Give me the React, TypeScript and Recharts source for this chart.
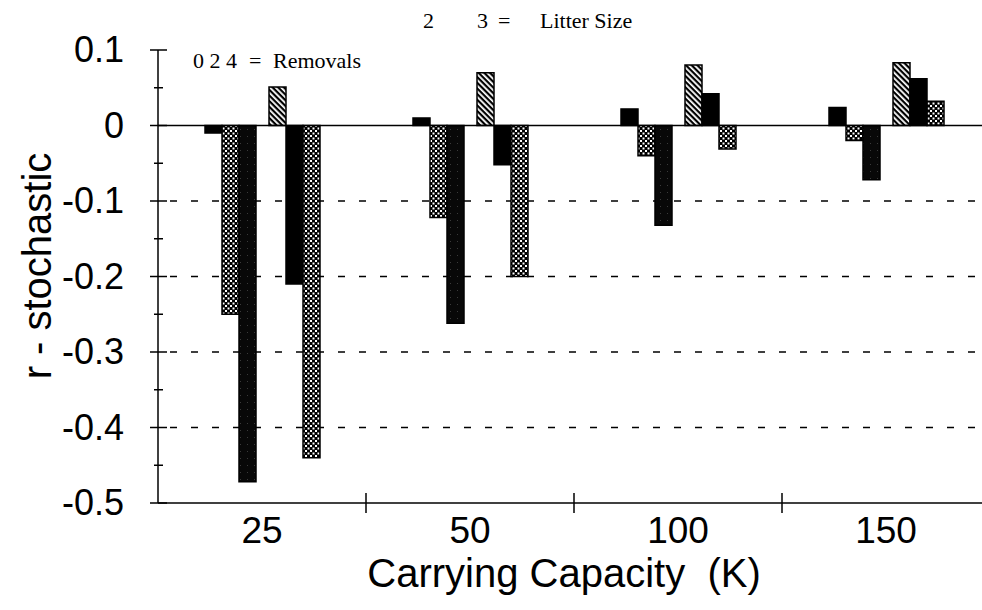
import React from "react"
import {
  Bar,
  BarChart,
  CartesianGrid,
  ReferenceLine,
  XAxis,
  YAxis,
} from "recharts"

// Carrying capacity (K) categories
const categories = ["25", "50", "100", "150"]

// litter size 2, removals 0 / 2 / 4
const l2r0 = [-0.01, 0.01, 0.022, 0.024]
const l2r2 = [-0.25, -0.122, -0.04, -0.02]
const l2r4 = [-0.472, -0.262, -0.132, -0.072]
// litter size 3, removals 0 / 2 / 4
const l3r0 = [0.051, 0.07, 0.08, 0.083]
const l3r2 = [-0.21, -0.052, 0.042, 0.062]
const l3r4 = [-0.44, -0.2, -0.031, 0.032]

const yTicks = [0.1, 0.05, 0, -0.05, -0.1, -0.15, -0.2, -0.25, -0.3, -0.35, -0.4, -0.45, -0.5]
const gridValues = [-0.1, -0.2, -0.3, -0.4]

const data = categories.map((k, i) => ({
  k,
  l2r0: l2r0[i],
  l2r2: l2r2[i],
  l2r4: l2r4[i],
  gap: null,
  l3r0: l3r0[i],
  l3r2: l3r2[i],
  l3r4: l3r4[i],
}))

const SANS = "'Liberation Sans', Arial, Helvetica, sans-serif"
const SERIF = "'Liberation Serif', 'Times New Roman', serif"

function YTick(props: any) {
  const { x, y, payload } = props
  const v = payload.value as number
  const major = Math.abs(v * 10 - Math.round(v * 10)) < 1e-6
  if (!major) {
    return <line x1={x - 4} x2={x + 5} y1={y} y2={y} stroke="#000" strokeWidth={1.5} />
  }
  return (
    <g>
      <line x1={x - 8} x2={x + 9} y1={y} y2={y} stroke="#000" strokeWidth={1.5} />
      <text x={x - 34} y={y + 12} textAnchor="end" fontSize={36} fontFamily={SANS} fill="#000">
        {v === 0 ? "0" : v.toFixed(1)}
      </text>
    </g>
  )
}

function XTick(props: any) {
  const { x, y, payload, index } = props
  const half = payload.offset ?? 104
  return (
    <g>
      <text x={x} y={y + 40} textAnchor="middle" fontSize={37} fontFamily={SANS} fill="#000">
        {payload.value}
      </text>
      {index < categories.length - 1 && (
        <line x1={x + half} x2={x + half} y1={y - 10} y2={y + 10} stroke="#000" strokeWidth={1.5} />
      )}
    </g>
  )
}

export default function App() {
  return (
    <div style={{ position: "absolute", left: 0, top: 0, width: 982, height: 610, overflow: "hidden", background: "#fff" }}>
      <svg width="0" height="0" style={{ position: "absolute" }}>
        <defs>
          <pattern id="checker" width="5" height="5" patternUnits="userSpaceOnUse">
            <rect width="5" height="5" fill="#000" />
            <rect x="0" y="0" width="2" height="2" fill="#fff" />
            <rect x="2.5" y="2.5" width="2" height="2" fill="#fff" />
          </pattern>
          <pattern id="hatch" width="4" height="4" patternUnits="userSpaceOnUse" patternTransform="rotate(45)">
            <rect width="4" height="4" fill="#fff" />
            <rect x="0" y="0" width="4" height="2.2" fill="#000" />
          </pattern>
          <pattern id="stipple" width="7" height="7" patternUnits="userSpaceOnUse">
            <rect width="7" height="7" fill="#080808" />
            <rect x="2" y="3" width="1" height="1" fill="#3a3a3a" />
          </pattern>
        </defs>
      </svg>
      <BarChart
        width={990}
        height={610}
        data={data}
        margin={{ top: 50, right: 0, bottom: 0, left: 0 }}
        barGap={0}
      >
        <CartesianGrid
          vertical={false}
          horizontalValues={gridValues}
          stroke="#000"
          strokeWidth={1.5}
          strokeDasharray="7 14"
          strokeDashoffset={9}
        />
        <XAxis
          dataKey="k"
          height={107}
          axisLine={{ stroke: "#000", strokeWidth: 1.5 }}
          tickLine={false}
          tickSize={0}
          tickMargin={0}
          tick={<XTick />}
          interval={0}
        />
        <YAxis
          domain={[-0.5, 0.1]}
          ticks={yTicks}
          type="number"
          width={158}
          axisLine={{ stroke: "#000", strokeWidth: 1.5 }}
          tickLine={false}
          tickSize={0}
          tickMargin={0}
          tick={<YTick />}
          interval={0}
          allowDataOverflow
        />
        <ReferenceLine y={0} stroke="#000" strokeWidth={1.5} />
        <Bar dataKey="l2r0" barSize={17} fill="#000" stroke="#000" strokeWidth={1.5} isAnimationActive={false} />
        <Bar dataKey="l2r2" barSize={17} fill="url(#checker)" stroke="#000" strokeWidth={1.5} isAnimationActive={false} />
        <Bar dataKey="l2r4" barSize={17} fill="url(#stipple)" stroke="#000" strokeWidth={1.5} isAnimationActive={false} />
        <Bar dataKey="gap" barSize={13} fill="none" isAnimationActive={false} />
        <Bar dataKey="l3r0" barSize={17} fill="url(#hatch)" stroke="#000" strokeWidth={1.5} isAnimationActive={false} />
        <Bar dataKey="l3r2" barSize={17} fill="#000" stroke="#000" strokeWidth={1.5} isAnimationActive={false} />
        <Bar dataKey="l3r4" barSize={17} fill="url(#checker)" stroke="#000" strokeWidth={1.5} isAnimationActive={false} />
      </BarChart>
      <svg width={982} height={610} style={{ position: "absolute", left: 0, top: 0, pointerEvents: "none" }}>
        <g fontFamily={SERIF} fontSize={22} fill="#000">
          <text x={423} y={28}>2</text>
          <text x={477} y={28}>3</text>
          <text x={498} y={28}>=</text>
          <text x={540} y={28}>Litter Size</text>
          <text x={193} y={68}>0 2 4</text>
          <text x={249} y={68}>=</text>
          <text x={273} y={68}>Removals</text>
        </g>
        <text x={564} y={587} textAnchor="middle" fontSize={40} fontFamily={SANS} fill="#000" style={{ whiteSpace: "pre" }}>
          {"Carrying Capacity  (K)"}
        </text>
        <text transform="translate(51,266) rotate(-90)" textAnchor="middle" fontSize={40} fontFamily={SANS} fill="#000">
          r - stochastic
        </text>
      </svg>
    </div>
  )
}
